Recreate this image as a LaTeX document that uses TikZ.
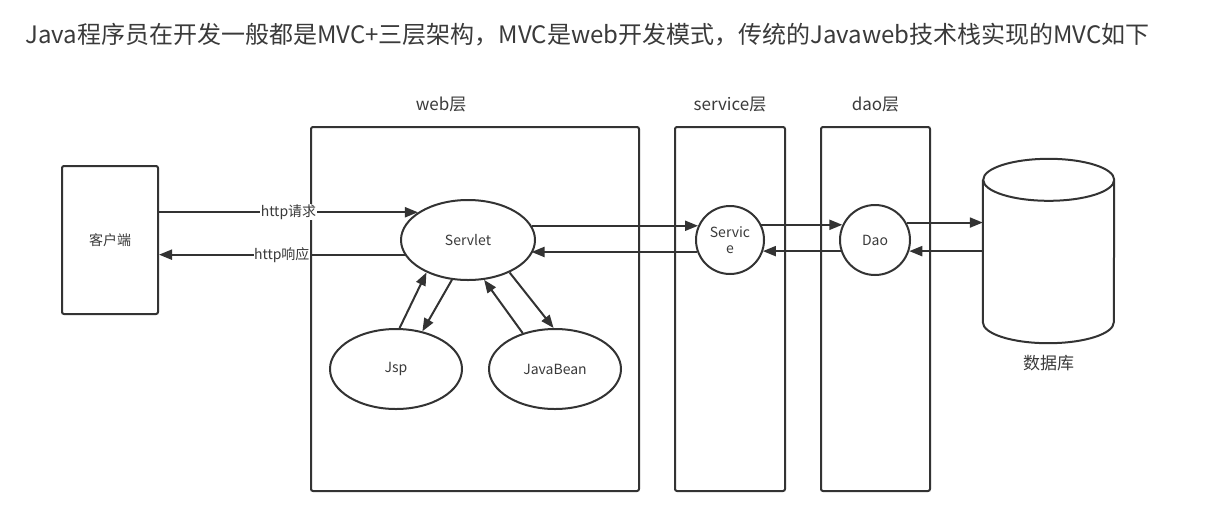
\documentclass[tikz,border=0pt]{standalone}
\usepackage{fontspec}
\setmainfont{Noto Sans CJK SC}
\usepackage{xcolor}
\usetikzlibrary{arrows.meta,positioning,shapes.geometric}
\definecolor{ink}{HTML}{333333}
\definecolor{txt}{HTML}{3A3A3A}

\begin{document}
\begin{tikzpicture}[
  x=1pt, y=-1pt,
  every node/.style={text=txt},
  layer/.style={draw=ink, line width=2pt, rounded corners=2pt, minimum width=#1, minimum height=364pt, inner sep=0pt},
  tag/.style={font=\fontsize{17}{17}\selectfont, inner sep=0pt},
  ent/.style={ellipse, draw=ink, line width=2pt, fill=white, minimum width=134pt, minimum height=80pt, inner sep=0pt, font=\fontsize{14}{16}\selectfont},
  svc/.style={circle, draw=ink, line width=2pt, fill=white, minimum size=#1, inner sep=0pt, align=center, font=\fontsize{14}{16}\selectfont},
  lbl/.style={fill=white, inner sep=0.5pt, font=\fontsize{14}{14}\selectfont},
  arr/.style={-{Triangle[length=13pt, width=10pt]}, draw=ink, line width=2pt}]
  \useasboundingbox (0,0) rectangle (1230,512);
  \node[anchor=west, font=\fontsize{24}{24}\selectfont, inner sep=0pt] (title) at (25,35) {Java程序员在开发一般都是MVC+三层架构，MVC是web开发模式，传统的Javaweb技术栈实现的MVC如下};
  \node[layer=96pt, minimum height=148pt, font=\fontsize{14}{14}\selectfont] (client) at (110,240) {客户端};
  \node[layer=328pt] (webbox) at (475,309) {};
  \node[layer=110pt] (servicebox) at (730,309) {};
  \node[layer=109pt] (daobox) at (875.5,309) {};
  \node[tag, above=14pt of webbox, xshift=-34pt] (webtag) {web层};
  \node[tag, above=14pt of servicebox] (servicetag) {service层};
  \node[tag, above=14pt of daobox] (daotag) {dao层};
  \node[ent] (servlet) at (468,240) {Servlet};
  \node[ent, minimum width=132pt] (jsp) at (396,369) {Jsp};
  \node[ent, minimum width=132pt] (bean) at (555,369) {JavaBean};
  \node[svc=68pt] (service) at (730,240) {Servic\\e};
  \node[svc=70pt] (dao) at (875,240) {Dao};
  \node[minimum width=131pt, minimum height=184pt, inner sep=0pt] (db) at (1048.5,251) {};
  \draw[ink, line width=2pt, fill=white] ([yshift=-21pt]db.north west) -- ([yshift=21pt]db.south west)
    arc[start angle=180, end angle=360, x radius=65.5pt, y radius=21pt] -- ([yshift=-21pt]db.north east)
    arc[start angle=0, end angle=180, x radius=65.5pt, y radius=21pt]
    arc[start angle=180, end angle=360, x radius=65.5pt, y radius=21pt];
  \node[tag, below=12pt of db] (dbtag) {数据库};
  \draw[arr] (client.east |- servlet.151) -- node[lbl] {http请求} (servlet.151);
  \draw[arr] (servlet.193) -- node[lbl] {http响应} (servlet.193 -| client.east);
  \draw[arr] (servlet.13 |- service.156) -- (service.156);
  \draw[arr] (service.200) -- (service.200 -| servlet.347);
  \draw[arr] (service.26 |- dao.155) -- (dao.155);
  \draw[arr] (dao.198) -- (dao.198 -| service.340);
  \draw[arr] (dao.29) -- (dao.29 -| db.west);
  \draw[arr] (dao.342 -| db.west) -- (dao.342);
  \draw[arr] (jsp.85) -- (servlet.218);
  \draw[arr] (servlet.248) -- (jsp.55);
  \draw[arr] (bean.132) -- (servlet.292);
  \draw[arr] (servlet.322) -- (bean.92);
\end{tikzpicture}
\end{document}
